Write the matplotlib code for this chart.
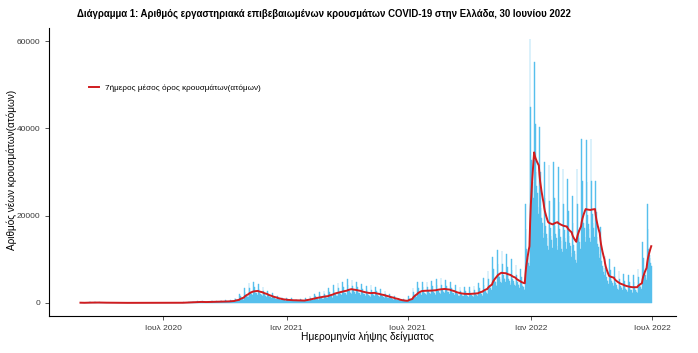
import numpy as np
import pandas as pd
import matplotlib
matplotlib.use("Agg")
import matplotlib.pyplot as plt
import matplotlib.dates as mdates

plt.rcParams['font.family'] = ['Liberation Sans', 'DejaVu Sans']

#------------------------------------------------------------------#
# data: 7-day mean per week (weeks from 28/02/2020)
#------------------------------------------------------------------#
startDate = "2020-02-28"
weeklyMean = [
    30, 60, 80, 90, 70, 50, 20, 15, 10, 15,
    15, 20, 25, 30, 20, 25, 30, 25, 30, 30,
    35, 40, 70, 150, 200, 230, 200, 220, 260, 300,
    320, 340, 440, 700, 1200, 2000, 2600, 2750, 2450, 2050,
    1600, 1250, 950, 750, 650, 600, 560, 540, 700, 950,
    1200, 1400, 1550, 1900, 2300, 2550, 2800, 3150, 3000, 2750,
    2450, 2250, 2300, 2050, 1800, 1500, 1200, 900, 600, 480,
    900, 2000, 2700, 2800, 2800, 2900, 3100, 3200, 3050, 2700,
    2300, 2100, 2050, 2100, 2200, 2600, 3200, 4200, 6000, 6900,
    6800, 6400, 5800, 5000, 4500, 13000, 34500, 31500, 23000, 18500,
    18000, 18500, 17800, 17500, 16200, 14000, 17500, 21500, 21300, 21500,
    16000, 10000, 6200, 5800, 4700, 4200, 3800, 3600, 3600, 4500,
    8000, 13000,
]
# share of the weekly mean reported on each day of the week (Fri..Thu)
weekdayFactor = [1.75, 1.3, 0.95, 0.85, 0.8, 0.7, 0.65]

tickDates = ["2020-07-01", "2021-01-01", "2021-07-01", "2022-01-01", "2022-07-01"]
tickLabels = ["Ιουλ 2020", "Ιαν 2021", "Ιουλ 2021", "Ιαν 2022", "Ιουλ 2022"]
yTicks = [0, 20000, 40000, 60000]

title = "Διάγραμμα 1: Αριθμός εργαστηριακά επιβεβαιωμένων κρουσμάτων COVID-19 στην Ελλάδα, 30 Ιουνίου 2022"
legendLabel = "7ήμερος μέσος όρος κρουσμάτων(ατόμων)"

nWeeks = len(weeklyMean)
dates = pd.date_range(startDate, periods=7*nWeeks, freq="D")
cases = np.repeat(weeklyMean, 7)*np.tile(weekdayFactor, nWeeks)
avg7 = pd.Series(cases, index=dates).rolling(7, min_periods=1).mean()

###########################################################################
# plot
###########################################################################
barColor = '#56BFEC'
fig = plt.figure(figsize=(6.98, 3.53), dpi=100)
ax = fig.add_axes([0.0702, 0.1048, 0.8983, 0.8159])

ax.bar(dates, cases, width=1.0, color=barColor, edgecolor=barColor, linewidth=0.3)
line, = ax.plot(dates, avg7.values, color='#D01C1F', lw=1.4)

ax.set_xlim(pd.Timestamp("2020-01-12"), pd.Timestamp("2022-08-06"))
ax.set_ylim(-3000, 63000)
ax.set_xticks([pd.Timestamp(d) for d in tickDates])
ax.set_xticklabels(tickLabels)
ax.set_yticks(yTicks)
ax.set_yticklabels([str(v) for v in yTicks])
ax.tick_params(labelsize=6, colors='#3A3A3A', length=3, width=0.6)

for s in ['top', 'right']:
    ax.spines[s].set_visible(False)
for s in ['left', 'bottom']:
    ax.spines[s].set_linewidth(0.8)
    ax.spines[s].set_color('black')

leg = ax.legend([line], [legendLabel], loc='center left', bbox_to_anchor=(0.064, 0.79),
                frameon=False, fontsize=5.9, handlelength=1.2, handletextpad=0.7,
                borderpad=0, borderaxespad=0)

fig.text(0.110, 0.960, title, fontsize=6.9, fontweight='bold', ha='left', va='center')
fig.text(0.017, 0.518, "Αριθμός νέων κρουσμάτων(ατόμων)", fontsize=7.2, rotation=90,
         ha='center', va='center')
fig.text(0.526, 0.045, "Ημερομηνία λήψης δείγματος", fontsize=7.4, ha='center', va='center')

fig.savefig("out.png", dpi=100)
